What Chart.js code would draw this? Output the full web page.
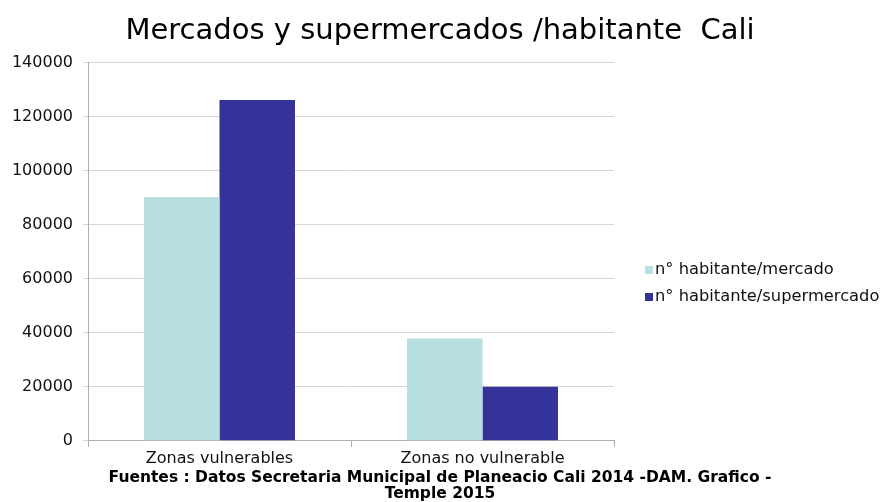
<!DOCTYPE html>
<html>
<head>
<meta charset="utf-8">
<script src="https://cdn.jsdelivr.net/npm/chart.js@4/dist/chart.umd.min.js"></script>
<style>
  html, body { margin: 0; padding: 0; background: #fff; }
  #wrap { width: 880px; height: 502px; }
</style>
</head>
<body>
<div id="wrap"><canvas id="mercadosChart"></canvas></div>
<script>
// Data
const categories = ['Zonas vulnerables', 'Zonas no vulnerable'];
const habitantePorMercado = [90300, 37900];
const habitantePorSupermercado = [126300, 20000];
const seriesLabels = ['n° habitante/mercado', 'n° habitante/supermercado'];
const footerLines = [
    'Fuentes : Datos Secretaria Municipal de Planeacio Cali 2014 -DAM. Grafico -',
    'Temple 2015'
];

const FONT = '"DejaVu Sans", "Liberation Sans", Arial, sans-serif';

// Legend drawn to the right of the plot, like the original
const sideLegend = {
    id: 'sideLegend',
    afterDraw(chart) {
        const c = chart.ctx;
        c.save();
        c.font = '16.3px ' + FONT;
        c.textBaseline = 'middle';
        chart.data.datasets.forEach((ds, i) => {
            const y = 270 + i * 27;
            c.fillStyle = ds.backgroundColor;
            c.fillRect(645, y - 4, 8, 8);
            c.fillStyle = '#111';
            c.fillText(ds.label, 655, y);
        });
        c.restore();
    }
};

const ctx = document.getElementById('mercadosChart').getContext('2d');
new Chart(ctx, {
    type: 'bar',
    data: {
        labels: categories,
        datasets: [
            {
                label: seriesLabels[0],
                data: habitantePorMercado,
                backgroundColor: '#B8DFE2',
                borderWidth: 0
            },
            {
                label: seriesLabels[1],
                data: habitantePorSupermercado,
                backgroundColor: '#333399',
                borderWidth: 0
            }
        ]
    },
    options: {
        responsive: true,
        maintainAspectRatio: false,
        animation: false,
        layout: {
            padding: 0
        },
        datasets: {
            bar: {
                categoryPercentage: 0.574,
                barPercentage: 1.0
            }
        },
        plugins: {
            legend: { display: false },
            tooltip: { enabled: false },
            title: {
                display: true,
                text: 'Mercados y supermercados /habitante  Cali',
                color: '#000',
                font: { family: FONT, size: 29, weight: 'normal', lineHeight: 1.1 },
                padding: { top: 16, bottom: 15 }
            },
            subtitle: {
                display: true,
                position: 'bottom',
                text: footerLines,
                color: '#000',
                font: { family: FONT, size: 15.5, weight: 'bold', lineHeight: 1.03 },
                padding: { top: 0, bottom: 0 }
            }
        },
        scales: {
            x: {
                grid: {
                    offset: true,
                    drawOnChartArea: false,
                    color: '#B0B0B0',
                    tickLength: 6
                },
                border: { color: '#B0B0B0' },
                ticks: {
                    color: '#111',
                    font: { family: FONT, size: 16 },
                    padding: 2
                }
            },
            y: {
                min: 0,
                max: 140000,
                afterFit(scale) { scale.width = 88; },
                ticks: {
                    stepSize: 20000,
                    color: '#111',
                    font: { family: FONT, size: 16 },
                    padding: 10,
                    callback: (v) => String(v)
                },
                grid: {
                    color: '#D6D6D6',
                    tickLength: 5
                },
                border: { color: '#B0B0B0' }
            },
            // empty axis that only reserves the room used by the legend
            legendRoom: {
                type: 'linear',
                position: 'right',
                display: true,
                afterFit(scale) { scale.width = 266; },
                ticks: { display: false },
                grid: { display: false },
                border: { display: false }
            }
        }
    },
    plugins: [sideLegend]
});
</script>
</body>
</html>
